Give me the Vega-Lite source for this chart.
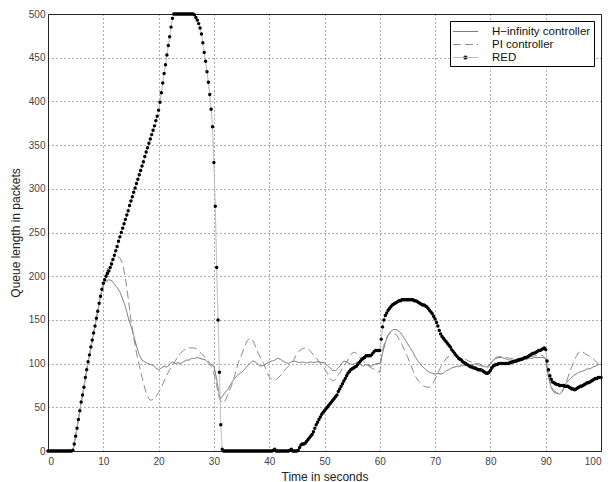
{
"$schema": "https://vega.github.io/schema/vega-lite/v6.json",
"width": 553,
"height": 437,
"autosize": {"type": "none"},
"padding": {"left": 48, "top": 14, "right": 12, "bottom": 31},
"background": "white",
"config": {
  "view": {"stroke": "#222", "strokeWidth": 1},
  "font": "Liberation Sans",
  "axis": {
    "domain": false,
    "ticks": false,
    "grid": true,
    "gridDash": [1, 3],
    "gridColor": "#333",
    "gridWidth": 0.8,
    "labelFont": "Liberation Sans",
    "labelFontSize": 10,
    "labelColor": "#444",
    "titleFont": "Liberation Sans",
    "titleFontSize": 12,
    "titleFontWeight": "normal",
    "titleColor": "#222"
  }
},
"data": {
  "values": "t,H,P,R\n0,0,0,0\n0.25,,,0\n0.5,0,0,0\n0.75,,,0\n1,0,0,0\n1.25,,,0\n1.5,0,0,0\n1.75,,,0\n2,0,0,0\n2.25,,,0\n2.5,0,0,0\n2.75,,,0\n3,0,0,0\n3.25,,,0\n3.5,0,0,0\n3.75,,,0\n4,0,0,0\n4.25,,,0\n4.5,0,0,1\n4.75,,,8\n5,17,17,17\n5.25,,,26\n5.5,36,36,36\n5.75,,,46\n6,56,56,56\n6.25,,,64\n6.5,73,73,73\n6.75,,,84\n7,93,93,93\n7.25,,,102\n7.5,110,110,110\n7.75,,,119\n8,127,127,127\n8.25,,,135\n8.5,143,143,143\n8.75,,,152\n9,160,160,160\n9.25,,,169\n9.5,177,177,177\n9.75,,,185\n10,190,190,192\n10.25,,,196\n10.5,194,203,200\n10.75,,,203\n11,196,212,206\n11.25,,,210\n11.5,195,218,214\n11.75,,,219\n12,191,222,224\n12.25,,,229\n12.5,187,223,234\n12.75,,,240\n13,182,221,245\n13.25,,,250\n13.5,174,214,255\n13.75,,,260\n14,165,198,265\n14.25,,,270\n14.5,153,175,275\n14.75,,,281\n15,143,150,286\n15.25,,,291\n15.5,132,130,296\n15.75,,,301\n16,120,112,306\n16.25,,,311\n16.5,110,98,316\n16.75,,,321\n17,104,84,326\n17.25,,,331\n17.5,102,72,337\n17.75,,,342\n18,100,62,347\n18.25,,,352\n18.5,99,58,357\n18.75,,,362\n19,98,59,367\n19.25,,,372\n19.5,95,62,378\n19.75,,,383\n20,93,67,390\n20.25,,,399\n20.5,95,73,410\n20.75,,,421\n21,97,80,432\n21.25,,,442\n21.5,96,87,453\n21.75,,,464\n22,99,93,474\n22.25,,,485\n22.5,102,98,495\n22.75,,,500\n23,100,103,500\n23.25,,,500\n23.5,101,108,500\n23.75,,,500\n24,100,112,500\n24.25,,,500\n24.5,102,115,500\n24.75,,,500\n25,104,117,500\n25.25,,,500\n25.5,104,118,500\n25.75,,,500\n26,106,118,500\n26.25,,,500\n26.5,106,118,499\n26.75,,,496\n27,107,116,493\n27.25,,,489\n27.5,106,113,484\n27.75,,,477\n28,105,110,467\n28.25,,,456\n28.5,104,106,446\n28.75,,,434\n29,101,103,422\n29.25,,,408\n29.5,99,97,391\n29.75,,,371\n30,97,89,330\n30.25,,,280\n30.5,82,75,210\n30.75,,,150\n31,63,60,90\n31.25,60,,30\n31.5,62,55,2\n31.75,,,0\n32,67,57,0\n32.25,,,0\n32.5,70,64,0\n32.75,,,0\n33,76,72,0\n33.25,,,0\n33.5,81,80,0\n33.75,,,0\n34,85,92,0\n34.25,,,0\n34.5,88,103,0\n34.75,,,0\n35,90,110,0\n35.25,,,0\n35.5,93,119,0\n35.75,,,0\n36,97,126,0\n36.25,,,0\n36.5,100,129,0\n36.75,,,0\n37,103,127,0\n37.25,,,0\n37.5,102,120,0\n37.75,,,0\n38,99,112,0\n38.25,,,0\n38.5,97,106,0\n38.75,,,0\n39,98,100,0\n39.25,,,0\n39.5,100,92,0\n39.75,,,0\n40,102,85,0\n40.25,,,0\n40.5,103,82,0\n40.75,,,1\n41,104,81,2\n41.25,,,0\n41.5,106,83,0\n41.75,,,0\n42,105,86,0\n42.25,,,0\n42.5,103,90,0\n42.75,,,0\n43,101,94,0\n43.25,,,0\n43.5,100,97,0\n43.75,,,1\n44,102,100,2\n44.25,,,0\n44.5,103,105,0\n44.75,,,0\n45,102,111,0\n45.25,,,1\n45.5,101,115,4\n45.75,,,7\n46,102,117,8\n46.25,,,8\n46.5,101,118,9\n46.75,,,11\n47,101,117,13\n47.25,,,15\n47.5,102,114,17\n47.75,,,19\n48,101,110,22\n48.25,,,26\n48.5,102,107,30\n48.75,,,33\n49,102,102,36\n49.25,,,39\n49.5,101,98,42\n49.75,,,44\n50,101,94,46\n50.25,,,48\n50.5,98,89,50\n50.75,,,52\n51,95,83,54\n51.25,,,56\n51.5,92,80,58\n51.75,,,60\n52,92,82,62\n52.25,,,64\n52.5,95,87,68\n52.75,,,71\n53,99,92,74\n53.25,,,77\n53.5,103,97,80\n53.75,,,83\n54,102,102,86\n54.25,,,89\n54.5,100,108,91\n54.75,,,93\n55,99,112,94\n55.25,,,95\n55.5,100,113,96\n55.75,,,97\n56,102,110,99\n56.25,,,101\n56.5,99,106,103\n56.75,,,105\n57,97,103,106\n57.25,,,107\n57.5,99,100,109\n57.75,,,109\n58,98,97,109\n58.25,,,109\n58.5,97,95,110\n58.75,,,112\n59,99,93,114\n59.25,,,115\n59.5,100,91,115\n59.75,,,115\n60,100,90,115\n60.25,,,128\n60.5,112,115,142\n60.75,,,150\n61,124,127,155\n61.25,,,158\n61.5,132,133,161\n61.75,,,163\n62,137,135,165\n62.25,,,167\n62.5,139,135,168\n62.75,,,169\n63,139,133,170\n63.25,,,171\n63.5,137,128,172\n63.75,,,172\n64,133,122,173\n64.25,,,173\n64.5,128,115,173\n64.75,,,173\n65,123,108,173\n65.25,,,173\n65.5,118,100,173\n65.75,,,173\n66,113,92,173\n66.25,,,172\n66.5,107,85,172\n66.75,,,171\n67,102,80,170\n67.25,,,169\n67.5,98,77,168\n67.75,,,167\n68,95,74,167\n68.25,,,166\n68.5,92,73,165\n68.75,,,163\n69,90,73,161\n69.25,,,159\n69.5,89,76,157\n69.75,,,154\n70,88,82,151\n70.25,,,147\n70.5,89,89,143\n70.75,,,138\n71,88,96,134\n71.25,,,131\n71.5,89,101,129\n71.75,,,127\n72,92,106,125\n72.25,,,123\n72.5,93,108,121\n72.75,,,119\n73,95,109,116\n73.25,,,114\n73.5,96,109,112\n73.75,,,110\n74,97,108,108\n74.25,,,106\n74.5,97,107,105\n74.75,,,104\n75,98,106,102\n75.25,,,101\n75.5,98,105,100\n75.75,,,99\n76,99,103,98\n76.25,,,97\n76.5,99,102,96\n76.75,,,96\n77,99,100,95\n77.25,,,95\n77.5,100,99,94\n77.75,,,93\n78,100,98,93\n78.25,,,93\n78.5,98,97,92\n78.75,,,91\n79,96,96,90\n79.25,,,89\n79.5,97,95,89\n79.75,,,90\n80,100,99,92\n80.25,,,95\n80.5,104,104,97\n80.75,,,98\n81,106,107,99\n81.25,,,99\n81.5,107,108,100\n81.75,,,100\n82,107,108,100\n82.25,,,100\n82.5,106,108,100\n82.75,,,100\n83,105,107,100\n83.25,,,100\n83.5,104,106,101\n83.75,,,101\n84,104,106,102\n84.25,,,102\n84.5,104,106,103\n84.75,,,103\n85,105,106,104\n85.25,,,104\n85.5,105,106,105\n85.75,,,105\n86,105,107,106\n86.25,,,107\n86.5,105,107,107\n86.75,,,108\n87,106,108,109\n87.25,,,110\n87.5,106,108,111\n87.75,,,112\n88,107,109,112\n88.25,,,113\n88.5,107,109,114\n88.75,,,115\n89,107,110,115\n89.25,,,116\n89.5,107,109,117\n89.75,,,118\n90,105,106,116\n90.25,,,103\n90.5,85,86,93\n90.75,,,86\n91,72,74,82\n91.25,,,79\n91.5,67,69,78\n91.75,,,77\n92,66,67,76\n92.25,,,76\n92.5,65,67,75\n92.75,,,75\n93,68,68,75\n93.25,,,75\n93.5,76,75,74\n93.75,,,74\n94,80,84,74\n94.25,,,73\n94.5,83,93,72\n94.75,,,71\n95,86,101,71\n95.25,,,70\n95.5,88,108,71\n95.75,,,72\n96,90,113,73\n96.25,,,74\n96.5,91,114,74\n96.75,,,75\n97,92,112,76\n97.25,,,77\n97.5,94,110,78\n97.75,,,78\n98,94,108,79\n98.25,,,80\n98.5,96,106,81\n98.75,,,82\n99,97,103,83\n99.25,,,83\n99.5,99,100,84\n99.75,,,84\n100,99,97,84",
  "format": {"type": "csv", "parse": {"t": "number", "H": "number", "P": "number", "R": "number"}}
},
"transform": [
  {"fold": ["H", "P", "R"], "as": ["s", "q"]},
  {"filter": "isValid(datum.q)"}
],
"encoding": {
  "x": {"field": "t", "type": "quantitative", "scale": {"domain": [0, 100], "nice": false},
        "axis": {"values": [0,10,20,30,40,50,60,70,80,90,100], "title": "Time in seconds", "labelPadding": 5, "titlePadding": 5}},
  "y": {"field": "q", "type": "quantitative", "scale": {"domain": [0, 500], "nice": false},
        "axis": {"values": [0,50,100,150,200,250,300,350,400,450,500], "title": "Queue length in packets", "labelPadding": 3, "titlePadding": 6}}
},
"layer": [
  {
    "mark": {"type": "line", "strokeWidth": 1},
    "encoding": {
      "color": {"field": "s", "type": "nominal",
        "scale": {"domain": ["H", "P", "R"], "range": ["#707070", "#8c8c8c", "#b4b4b4"]},
        "legend": {"title": null, "orient": "top-right", "offset": 7, "padding": 3, "strokeColor": "#000", "fillColor": "#fff",
          "labelFont": "Liberation Sans", "labelFontSize": 11.5, "labelColor": "#111", "symbolSize": 196, "symbolStrokeWidth": 1,
          "symbolOffset": 5, "labelOffset": 19, "rowPadding": 0,
          "labelExpr": "datum.label == 'H' ? 'H−infinity controller' : datum.label == 'P' ? 'PI controller' : 'RED'",
          "symbolType": "M-1.8,0H1.8",
          "encode": {"symbols": {"update": {
            "stroke": {"value": "#000"},
            "shape": {"signal": "datum.value === 'R' ? 'M-1.8,0H1.8M-0.3,0A0.3,0.3 0 1,0 0.3,0A0.3,0.3 0 1,0 -0.3,0' : 'M-1.8,0H1.8'"},
            "fill": {"signal": "datum.value === 'R' ? '#000' : 'transparent'"}
          }}}
        }},
      "strokeDash": {"field": "s", "type": "nominal",
        "scale": {"domain": ["H", "P", "R"], "range": [[1, 0], [8, 4], [1, 0]]},
        "legend": {"title": null, "orient": "top-right", "offset": 7, "padding": 3, "strokeColor": "#000", "fillColor": "#fff",
          "labelFont": "Liberation Sans", "labelFontSize": 11.5, "labelColor": "#111", "symbolSize": 196, "symbolStrokeWidth": 1,
          "symbolOffset": 5, "labelOffset": 19, "rowPadding": 0,
          "labelExpr": "datum.label == 'H' ? 'H−infinity controller' : datum.label == 'P' ? 'PI controller' : 'RED'",
          "symbolType": "M-1.8,0H1.8",
          "encode": {"symbols": {"update": {
            "stroke": {"value": "#000"},
            "shape": {"signal": "datum.value === 'R' ? 'M-1.8,0H1.8M-0.3,0A0.3,0.3 0 1,0 0.3,0A0.3,0.3 0 1,0 -0.3,0' : 'M-1.8,0H1.8'"},
            "fill": {"signal": "datum.value === 'R' ? '#000' : 'transparent'"}
          }}}
        }}
    }
  },
  {
    "transform": [{"filter": "datum.s == 'R'"}],
    "mark": {"type": "point", "filled": true, "color": "#000", "size": 12, "opacity": 1, "shape": "circle"}
  }
]
}
